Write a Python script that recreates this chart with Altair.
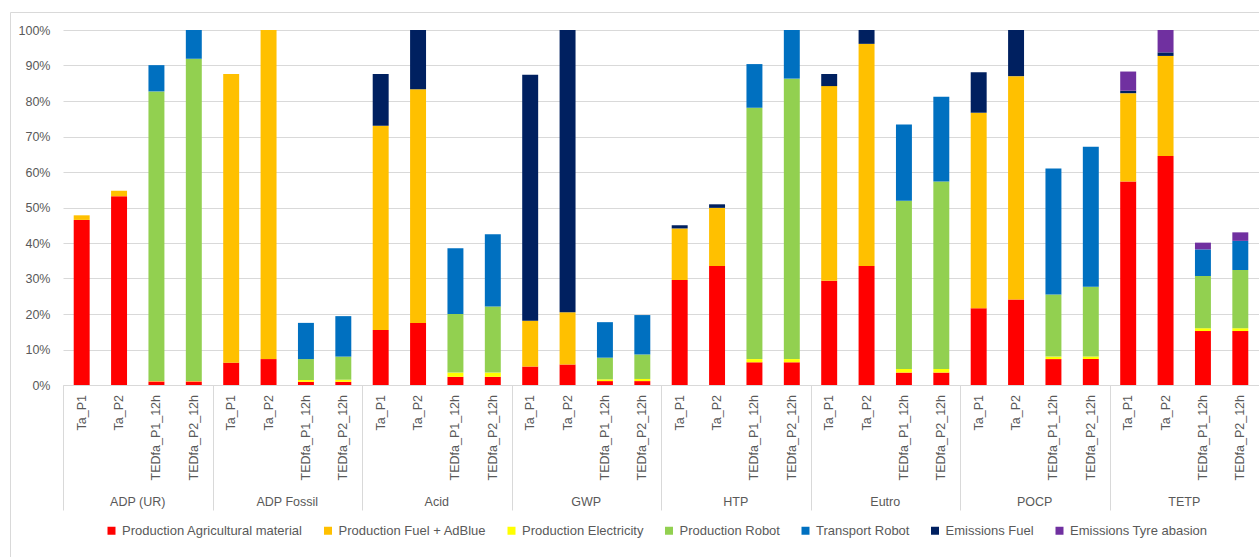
import altair as alt
import pandas as pd

groups = ["ADP (UR)", "ADP Fossil", "Acid", "GWP", "HTP", "Eutro", "POCP", "TETP"]
cases = ["Ta_P1", "Ta_P2", "TEDfa_P1_12h", "TEDfa_P2_12h"]
series = [
    "Production Agricultural material",
    "Production Fuel + AdBlue",
    "Production Electricity",
    "Production Robot",
    "Transport Robot",
    "Emissions Fuel",
    "Emissions Tyre abasion",
]
colors = ["#FF0000", "#FFC000", "#FFFF00", "#92D050", "#0070C0", "#002060", "#7030A0"]

# values in %, 4 cases per group, groups in order above
agri = [46.5, 53.2, 1.0, 1.0,   6.3, 7.3, 0.9, 0.9,   15.5, 17.5, 2.3, 2.3,   5.2, 5.8, 1.1, 1.1,
        29.6, 33.5, 6.4, 6.4,   29.4, 33.5, 3.5, 3.5,  21.6, 24.1, 7.3, 7.3,   57.3, 64.5, 15.2, 15.2]
fuel = [1.3, 1.5, 0, 0,   81.3, 92.7, 0, 0,   57.5, 65.8, 0, 0,   12.9, 14.7, 0, 0,
        14.5, 16.4, 0, 0,   54.8, 62.6, 0, 0,   55.1, 62.9, 0, 0,   24.9, 28.2, 0, 0]
elec = [0, 0, 0.1, 0.1,   0, 0, 0.5, 0.6,   0, 0, 1.2, 1.2,   0, 0, 0.5, 0.6,
        0, 0, 0.9, 0.9,   0, 0, 1.0, 1.0,   0, 0, 0.7, 0.7,   0, 0, 0.8, 0.8]
robot = [0, 0, 81.6, 90.8,   0, 0, 5.9, 6.5,   0, 0, 16.5, 18.6,   0, 0, 6.1, 6.9,
         0, 0, 70.8, 79.0,   0, 0, 47.4, 52.8,   0, 0, 17.5, 19.7,   0, 0, 14.7, 16.4]
transport = [0, 0, 7.4, 8.1,   0, 0, 10.2, 11.4,   0, 0, 18.5, 20.4,   0, 0, 10.0, 11.1,
             0, 0, 12.3, 13.7,   0, 0, 21.5, 23.9,   0, 0, 35.5, 39.4,   0, 0, 7.5, 8.2]
em_fuel = [0, 0, 0, 0,   0, 0, 0, 0,   14.6, 16.7, 0, 0,   69.3, 79.5, 0, 0,
           0.9, 1.0, 0, 0,   3.4, 3.9, 0, 0,   11.4, 13.0, 0, 0,   0.7, 1.0, 0, 0]
tyre = [0, 0, 0, 0,   0, 0, 0, 0,   0, 0, 0, 0,   0, 0, 0, 0,
        0, 0, 0, 0,   0, 0, 0, 0,   0, 0, 0, 0,   5.4, 6.3, 1.9, 2.4]

all_vals = [agri, fuel, elec, robot, transport, em_fuel, tyre]

FONT = "Liberation Sans"
GREY = "#595959"
LINE = "#D9D9D9"
W, H = 1196, 355

rows = []
for s_i, (name, vals) in enumerate(zip(series, all_vals)):
    for k, v in enumerate(vals):
        if v > 0:
            rows.append(dict(group=groups[k // 4], case=cases[k % 4], series=name,
                             order=s_i, value=v / 100.0))
df = pd.DataFrame(rows)
case_df = pd.DataFrame([dict(group=g, case=c) for g in groups for c in cases])
group_df = pd.DataFrame({"group": groups})
frame_df = pd.DataFrame({"k": [0]})

x_scale = alt.Scale(paddingInner=0, paddingOuter=0)
xo_scale = alt.Scale(paddingInner=0.573, paddingOuter=0.2865)

bars = alt.Chart(df).mark_bar().encode(
    x=alt.X("group:N", sort=groups, scale=x_scale,
            axis=alt.Axis(title=None, labels=False, tickBand="extent", tickSize=125,
                          tickColor=LINE, domainColor=LINE, grid=False)),
    xOffset=alt.XOffset("case:N", sort=cases, scale=xo_scale),
    y=alt.Y("value:Q", stack="zero",
            scale=alt.Scale(domain=[0, 1], nice=False, clamp=True),
            axis=alt.Axis(title=None, format=".0%", values=[i / 10 for i in range(11)],
                          grid=True, gridColor=LINE, domain=False, ticks=False,
                          labelPadding=13, labelColor=GREY, labelFontSize=12.5, labelFont=FONT)),
    color=alt.Color("series:N", sort=series,
                    scale=alt.Scale(domain=series, range=colors),
                    legend=alt.Legend(title=None, orient="none", legendX=42, legendY=494,
                                      direction="horizontal", columns=7,
                                      symbolType="square", symbolSize=64, symbolStrokeWidth=0,
                                      labelFontSize=13, labelColor=GREY, labelFont=FONT,
                                      labelLimit=0, columnPadding=18.5, labelOffset=4, padding=0)),
    order=alt.Order("order:Q", sort="ascending"),
)

case_text = alt.Chart(case_df).mark_text(
    angle=270, align="right", baseline="middle", fontSize=12.5, color=GREY, font=FONT
).encode(
    x=alt.X("group:N", sort=groups, scale=x_scale),
    xOffset=alt.XOffset("case:N", sort=cases, scale=xo_scale),
    y=alt.value(H + 10),
    text="case:N",
)

group_text = alt.Chart(group_df).mark_text(
    baseline="middle", fontSize=12.5, color=GREY, font=FONT
).encode(
    x=alt.X("group:N", sort=groups, scale=x_scale),
    y=alt.value(472),
    text="group:N",
)

frame = alt.Chart(frame_df).mark_rect(fillOpacity=0, stroke=LINE, strokeWidth=1).encode(
    x=alt.value(-52.5), x2=alt.value(W + 60), y=alt.value(-17.5), y2=alt.value(H + 300)
)

chart = alt.layer(frame, bars, case_text, group_text).properties(
    width=W, height=H,
    padding={"left": 63, "top": 30, "right": 0, "bottom": 172},
    autosize=alt.AutoSizeParams(type="none"),
).configure(font=FONT).configure_view(stroke=None)

chart.save("out.html", embed_options={"renderer": "svg", "actions": False})
